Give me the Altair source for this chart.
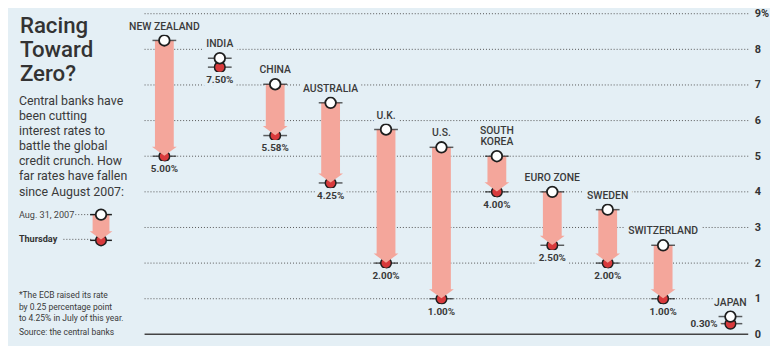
import altair as alt
import pandas as pd

# ---- data -------------------------------------------------------------
countries = ["NEW ZEALAND", "INDIA", "CHINA", "AUSTRALIA", "U.K.", "U.S.",
             "SOUTH\nKOREA", "EURO ZONE", "SWEDEN", "SWITZERLAND", "JAPAN"]
aug_31_2007 = [8.25, 7.75, 7.02, 6.50, 5.75, 5.25, 5.00, 4.00, 3.50, 2.50, 0.50]
thursday = [5.00, 7.50, 5.58, 4.25, 2.00, 1.00, 4.00, 2.50, 2.00, 1.00, 0.30]
y_ticks = [0, 1, 2, 3, 4, 5, 6, 7, 8, 9]

title_lines = ["Racing", "Toward", "Zero?"]
intro_lines = ["Central banks have", "been cutting", "interest rates to",
               "battle the global", "credit crunch. How",
               "far rates have fallen", "since August 2007:"]
note_lines = ["*The ECB raised its rate", "by 0.25 percentage point",
              "to 4.25% in July of this year."]
source_line = "Source: the central banks"
legend_start = "Aug. 31, 2007"
legend_end = "Thursday"

# ---- style ------------------------------------------------------------
BG = "#e4eff5"
PINK = "#f4a69b"
RED = "#d83a3c"
INK = "#3a3a3a"
DARK = "#1e1e1e"
FONT = "Roboto"
ARROW_HEAD = "M-1,-0.37L1,-0.37L0,0.37Z"
LAST_NUDGE = 12  # the last column sits a little further right in the original

df = pd.DataFrame({"country": countries, "start": aug_31_2007, "end": thursday})
df["label"] = [f"{v:.2f}%" for v in thursday]
df["drop"] = df["start"] - df["end"]
df["lines"] = [c.count("\n") + 1 for c in countries]
ticks_df = pd.DataFrame({"tick": y_ticks})
one = pd.DataFrame({"k": [0]})

x = alt.X("country:N", axis=None,
          scale=alt.Scale(type="point", domain=countries, range=[154, 714], padding=0))
xo = alt.XOffset("nudge:Q", scale=None)
yscale = alt.Scale(domain=[0, 9.111], nice=False, zero=False)
yaxis = alt.Axis(orient="right", values=y_ticks, ticks=False, domain=False,
                 grid=False, title=None, labelFont=FONT, labelFontSize=11,
                 labelFontWeight="bold", labelColor="#333333", labelPadding=6,
                 labelExpr="datum.value == 9 ? '9%' : datum.label")


def Y(field):
    return alt.Y(field, scale=yscale, axis=yaxis)


base = alt.Chart(df).transform_calculate(
    nudge=f"datum.country == '{countries[-1]}' ? {LAST_NUDGE} : 0")

grid = alt.Chart(ticks_df).transform_filter("datum.tick > 0").mark_rule(
    color="#555555", strokeWidth=1, strokeDash=[1, 2]
).encode(y=Y("tick:Q"), x=alt.value(134), x2=alt.value(744))
baseline = alt.Chart(ticks_df).transform_filter("datum.tick == 0").mark_rule(
    color="#444444", strokeWidth=1.5
).encode(y=Y("tick:Q"), x=alt.value(134), x2=alt.value(744))

end_tick = base.mark_tick(orient="horizontal", size=24, thickness=1.5, color=DARK).encode(
    x=x, xOffset=xo, y=Y("end:Q"))
end_dot = base.mark_circle(color=RED, stroke=DARK, strokeWidth=1.5, size=115, opacity=1).encode(
    x=x, xOffset=xo, y=Y("end:Q"))

arrows = base.transform_filter("datum.drop >= 0.5")
body = arrows.mark_rule(color=PINK, strokeWidth=19, y2Offset=-8).encode(
    x=x, xOffset=xo, y=Y("start:Q"), y2="end:Q")
head = arrows.mark_point(shape=ARROW_HEAD, size=625, filled=True, color=PINK, opacity=1,
                         yOffset=-5).encode(x=x, xOffset=xo, y=Y("end:Q"))

start_tick = base.mark_tick(orient="horizontal", size=24, thickness=1.5, color=DARK).encode(
    x=x, xOffset=xo, y=Y("start:Q"))
start_dot = base.mark_circle(color="white", stroke=DARK, strokeWidth=1.8, size=115, opacity=1).encode(
    x=x, xOffset=xo, y=Y("start:Q"))

layers_names = []
for n_lines, dy in [(1, -9), (2, -20)]:
    sub = base.transform_filter(f"datum.lines == {n_lines}")
    kw = dict(font=FONT, fontSize=10.5, fontWeight=500, baseline="bottom", dy=dy,
              lineBreak="\n", lineHeight=11, align="center")
    layers_names.append(sub.mark_text(color=BG, stroke=BG, strokeWidth=9, strokeJoin="round", **kw).encode(
        x=x, xOffset=xo, y=Y("start:Q"), text="country:N"))
    layers_names.append(sub.mark_text(color=INK, **kw).encode(
        x=x, xOffset=xo, y=Y("start:Q"), text="country:N"))

val_kw = dict(font=FONT, fontSize=10, fontWeight="bold", baseline="middle", dy=13, align="center")
vals = base.transform_filter(f"datum.country != '{countries[-1]}'")
val_halo = vals.mark_text(color=BG, stroke=BG, strokeWidth=8, strokeJoin="round", **val_kw).encode(
    x=x, xOffset=xo, y=Y("end:Q"), text="label:N")
val_text = vals.mark_text(color=INK, **val_kw).encode(
    x=x, xOffset=xo, y=Y("end:Q"), text="label:N")
jp = base.transform_filter(f"datum.country == '{countries[-1]}'")
jp_kw = dict(font=FONT, fontSize=10, fontWeight="bold", baseline="middle", dy=0, dx=-13, align="right")
jp_halo = jp.mark_text(color=BG, stroke=BG, strokeWidth=8, strokeJoin="round", **jp_kw).encode(
    x=x, xOffset=xo, y=Y("end:Q"), text="label:N")
jp_text = jp.mark_text(color=INK, **jp_kw).encode(
    x=x, xOffset=xo, y=Y("end:Q"), text="label:N")

# ---- left panel ---------------------------------------------------------
panel = alt.Chart(one)
title = panel.mark_text(font=FONT, fontSize=22.5, fontWeight=500, color="#333333", align="left",
                        baseline="alphabetic", lineHeight=24.5).encode(
    x=alt.value(8), y=alt.value(23), text=alt.value(title_lines))
intro = panel.mark_text(font=FONT, fontSize=12.5, color=INK, align="left",
                        baseline="middle", lineHeight=15.3).encode(
    x=alt.value(7), y=alt.value(92), text=alt.value(intro_lines))
note = panel.mark_text(font=FONT, fontSize=8.6, color=INK, align="left",
                       baseline="middle", lineHeight=12).encode(
    x=alt.value(7), y=alt.value(288), text=alt.value(note_lines))
source = panel.mark_text(font=FONT, fontSize=8.6, color=INK, align="left", baseline="middle").encode(
    x=alt.value(7), y=alt.value(326), text=alt.value(source_line))

lg_t1 = panel.mark_text(font=FONT, fontSize=9.2, color="#444444", align="left", baseline="middle").encode(
    x=alt.value(7), y=alt.value(207), text=alt.value(legend_start))
lg_t2 = panel.mark_text(font=FONT, fontSize=9.2, fontWeight="bold", color="#333333", align="left",
                        baseline="middle").encode(
    x=alt.value(7), y=alt.value(232), text=alt.value(legend_end))
lg_l1 = panel.mark_rule(color="#555555", strokeDash=[1, 2]).encode(
    x=alt.value(64), x2=alt.value(80), y=alt.value(207))
lg_l2 = panel.mark_rule(color="#555555", strokeDash=[1, 2]).encode(
    x=alt.value(52), x2=alt.value(80), y=alt.value(232))
lg_tick_end = panel.mark_rule(color=DARK, strokeWidth=1.5).encode(
    x=alt.value(79), x2=alt.value(101), y=alt.value(233))
lg_dot_end = panel.mark_circle(color=RED, stroke=DARK, strokeWidth=1.5, size=115, opacity=1).encode(
    x=alt.value(90), y=alt.value(233))
lg_body = panel.mark_rule(color=PINK, strokeWidth=17).encode(
    x=alt.value(90), y=alt.value(207), y2=alt.value(225))
lg_head = panel.mark_point(shape=ARROW_HEAD, size=529, filled=True, color=PINK, opacity=1).encode(
    x=alt.value(90), y=alt.value(228))
lg_tick_start = panel.mark_rule(color=DARK, strokeWidth=1.5).encode(
    x=alt.value(79), x2=alt.value(101), y=alt.value(207))
lg_dot_start = panel.mark_circle(color="white", stroke=DARK, strokeWidth=1.8, size=115, opacity=1).encode(
    x=alt.value(90), y=alt.value(207))

chart = alt.layer(
    grid, baseline, end_tick, end_dot, body, head, start_tick, start_dot,
    *layers_names, val_halo, val_text, jp_halo, jp_text,
    title, intro, note, source, lg_t1, lg_t2, lg_l1, lg_l2,
    lg_tick_end, lg_dot_end, lg_body, lg_head, lg_tick_start, lg_dot_start,
).properties(
    width=744, height=328, padding={"left": 4, "top": 0, "right": 22, "bottom": 10},
    autosize=alt.AutoSizeParams(type="none"),
    background=BG,
).configure_view(stroke=None)

chart.save("out.html", embed_options={"renderer": "svg", "actions": False})
